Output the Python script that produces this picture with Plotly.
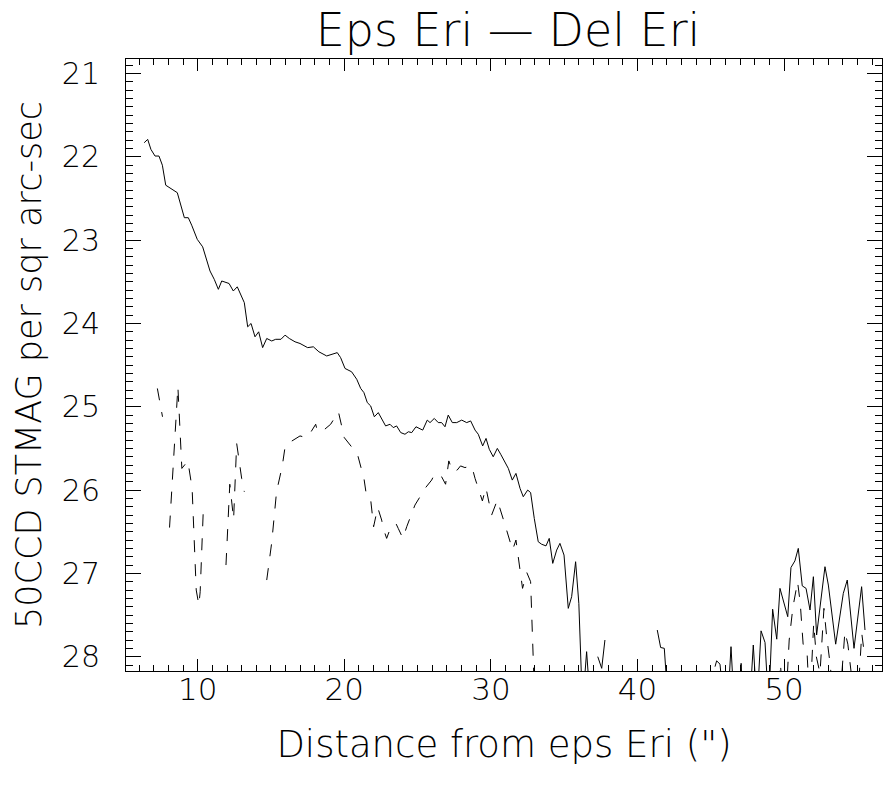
import plotly.graph_objects as go

# ---- data ----
solid_x = [6.35, 6.59, 6.81, 7.09, 7.36, 7.59, 7.82, 8.11, 8.61, 9.09, 9.36, 9.59, 9.97,
           10.34, 10.84, 11.13, 11.41, 11.64, 12.14, 12.43, 12.70, 13.18, 13.41, 13.64,
           13.91, 14.16, 14.43, 14.71, 15.05, 15.32, 15.68, 15.96, 16.25, 16.64, 16.98,
           17.50, 17.89, 18.27, 18.80, 19.52, 19.75, 20.05, 20.50, 20.85, 21.12, 21.34,
           21.57, 21.80, 22.05, 22.32, 22.59, 22.82, 23.12, 23.34, 23.57, 23.85, 24.14,
           24.37, 24.60, 24.89, 25.35, 25.66, 25.85, 26.14, 26.41, 26.64, 26.87, 27.09,
           27.37, 27.67, 28.01, 28.35, 28.62, 28.92, 29.14, 29.44, 29.67, 29.89, 30.16,
           30.44, 30.67, 30.92, 31.19, 31.46, 31.71, 31.99, 32.21, 32.51, 32.71, 32.96,
           33.23, 33.46, 33.76, 33.98, 34.22, 34.49, 34.71, 34.99, 35.28, 35.51, 35.78,
           36.00, 36.25, 36.53, 36.80, 37.05, 37.29, 37.56, 37.78, 38.00, 41.35, 41.58,
           41.83, 42.10, 42.30, 45.29, 45.40, 45.63, 45.90, 46.15, 46.38, 46.60, 46.95,
           47.07, 47.20, 47.65, 47.90, 48.15, 48.43, 48.70, 48.95, 49.22, 49.50, 49.72,
           49.99, 50.25, 50.47, 50.74, 50.97, 51.24, 51.50, 51.77, 52.00, 52.22, 52.79,
           53.02, 53.52, 54.04, 54.31, 54.54, 54.77, 55.29, 55.52]
solid_y = [21.83, 21.79, 21.91, 21.99, 21.99, 22.10, 22.34, 22.37, 22.43, 22.73, 22.73, 22.82, 22.99,
           23.08, 23.37, 23.47, 23.59, 23.49, 23.52, 23.61, 23.56, 23.75, 24.04, 24.00,
           24.16, 24.10, 24.29, 24.18, 24.21, 24.19, 24.19, 24.14, 24.18, 24.22, 24.24,
           24.29, 24.28, 24.34, 24.39, 24.35, 24.41, 24.54, 24.58, 24.67, 24.78, 24.83,
           24.95, 24.99, 25.12, 25.07, 25.15, 25.23, 25.21, 25.25, 25.23, 25.31, 25.33,
           25.30, 25.31, 25.24, 25.28, 25.16, 25.19, 25.14, 25.19, 25.19, 25.24, 25.10,
           25.19, 25.19, 25.16, 25.19, 25.17, 25.28, 25.33, 25.47, 25.38, 25.51, 25.60,
           25.50, 25.57, 25.66, 25.74, 25.88, 25.80, 25.98, 26.08, 26.00, 26.03, 26.34,
           26.62, 26.65, 26.67, 26.58, 26.88, 26.72, 26.64, 26.78, 27.42, 27.28, 26.86,
           27.36, 28.60, 27.94, 28.60, None, 28.00, 28.14, 27.80, None, 27.68, 27.89,
           27.90, 28.60, None, 28.12, 28.05, 28.09, 28.60, 28.60, 27.88, 28.60, 28.60,
           28.08, 28.60, 28.60, 27.86, 28.60, 27.69, 27.83, 28.60, 27.43, 27.79, 27.18,
           27.36, 27.52, 26.93, 26.85, 26.70, 27.15, 27.18, 27.44, 27.04, 27.74, 26.92,
           27.14, 27.85, 27.24, 27.08, 27.48, 27.90, 27.16, 27.68]

dash_x = [7.25, 7.45, 7.60, 7.85, 8.08, 8.65, 8.92, 9.33, 9.62, 9.90, 10.08, 10.17, 10.38,
          10.60, 11.93, 12.19, 12.45, 12.66, 13.00, 13.18, 13.40, 14.71, 15.05, 15.38,
          15.77, 15.98, 16.25, 16.98, 17.39, 17.59, 18.05, 18.16, 18.46, 19.07, 19.60,
          20.00, 20.90, 21.35, 21.50, 21.62, 21.81, 22.00, 22.28, 22.55, 22.66, 22.89,
          23.12, 23.52, 23.68, 24.00, 24.26, 24.82, 25.55, 25.96, 26.18, 26.64, 26.91,
          27.13, 27.40, 27.70, 27.93, 28.23, 28.69, 28.92, 29.42, 29.66, 30.05, 30.44,
          30.97, 31.48, 31.71, 32.16, 32.45, 32.71, 33.00, 33.20, 49.55, 49.75, 49.95,
          50.20, 50.35, 50.60, 50.92, 51.10, 51.30, 51.56, 51.75, 52.02, 52.20, 52.45,
          52.72, 52.90, 53.15, 53.40, 53.90, 54.15, 54.35, 54.55, 54.85, 55.10, 55.30,
          55.50]
dash_y = [24.78, 24.95, 25.12, None, 26.45, 24.76, 25.74, 25.65, 25.98, 27.20, 27.38, 27.22, 26.25,
          None, 26.90, 25.93, 26.35, 25.44, 25.86, 26.02, None, 27.08, 26.63, 26.02,
          25.71, 25.46, 25.43, 25.35, 25.37, 25.34, 25.21, 25.29, 25.30, 25.21, 25.06,
          25.37, 25.57, 25.87, 26.05, 26.11, 26.13, 26.44, 26.21, 26.36, 26.46, 26.58,
          26.47, 26.40, 26.46, 26.58, 26.44, 26.18, 25.97, 25.88, 25.80, 25.84, 25.93,
          25.65, 25.78, 25.76, 25.71, 25.73, 25.71, 25.86, 26.13, 25.97, 26.30, 26.12,
          26.42, 26.72, 26.60, 27.18, 26.99, 27.10, 28.60, None, 28.60, 28.08, 28.60,
          28.30, 27.80, 27.41, 27.10, 27.35, 27.85, 27.92, 28.60, 27.60, 28.00, 28.20,
          27.42, 27.75, 28.10, 28.60, 28.30, 27.70, 27.85, 28.15, 28.60, 28.30, 27.72,
          28.00]

x_ticks = [10, 20, 30, 40, 50]
y_ticks = [21, 22, 23, 24, 25, 26, 27, 28]

title_text = "Eps Eri \u2014 Del Eri"
x_title = "Distance from eps Eri (\")"
y_title = "50CCD STMAG per sqr arc-sec"

FONT = "DejaVu Sans"

fig = go.Figure()
fig.add_trace(go.Scatter(x=solid_x, y=solid_y, mode="lines", connectgaps=False,
                         line=dict(color="black", width=1), hoverinfo="skip"))
fig.add_trace(go.Scatter(x=dash_x, y=dash_y, mode="lines", connectgaps=False,
                         line=dict(color="black", width=1, dash="12px,12px"), hoverinfo="skip"))

fig.update_layout(
    width=883, height=785,
    margin=dict(l=126, r=1, t=59, b=114, pad=0, autoexpand=False),
    paper_bgcolor="white", plot_bgcolor="white",
    showlegend=False, hovermode=False,
    font=dict(family=FONT, color="black", weight=200),
    title=dict(text=title_text, x=508 / 883, xanchor="center", xref="container",
               y=1 - 30 / 785, yanchor="middle", yref="container", automargin=False,
               font=dict(size=46, family=FONT, weight=200)),
    xaxis=dict(range=[5.11, 56.68], tickvals=x_ticks, ticks="inside", ticklen=12,
               tickwidth=1, tickcolor="black", showline=True, linecolor="black",
               linewidth=1, mirror="allticks", showgrid=False, zeroline=False,
               automargin=False,
               tickfont=dict(size=31, family=FONT, weight=200), ticklabelstandoff=-9,
               minor=dict(dtick=1, tick0=0, ticks="inside", ticklen=6, tickcolor="black",
                          tickwidth=1, showgrid=False),
               title=dict(text=x_title, font=dict(size=37, family=FONT, weight=200), standoff=24)),
    yaxis=dict(range=[28.172, 20.825], tickvals=y_ticks, ticks="inside", ticklen=15,
               tickwidth=1, tickcolor="black", showline=True, linecolor="black",
               linewidth=1, mirror="allticks", showgrid=False, zeroline=False,
               automargin=False,
               tickfont=dict(size=30, family=FONT, weight=200), ticklabelstandoff=19,
               minor=dict(dtick=0.1, tick0=0, ticks="inside", ticklen=7, tickcolor="black",
                          tickwidth=1, showgrid=False),
               title=dict(text=y_title, font=dict(size=35, family=FONT, weight=200), standoff=9)),
)

fig.write_html("out.html", config={"displayModeBar": False, "staticPlot": True},
               post_script="document.body.style.margin='0';")
